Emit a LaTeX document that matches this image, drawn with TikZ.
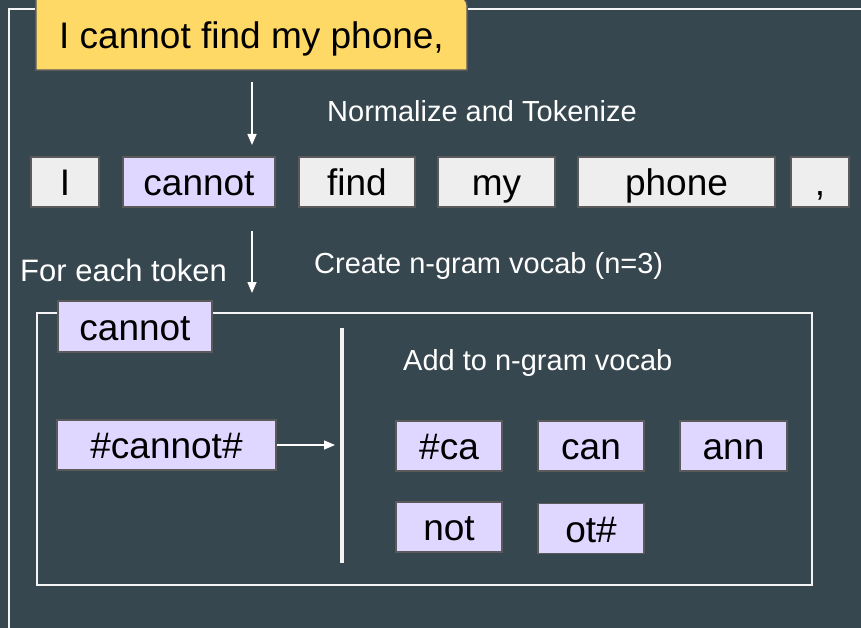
\documentclass[tikz,border=0pt]{standalone}
\usepackage{fontspec}
\setmainfont{Liberation Sans}
\usetikzlibrary{arrows.meta}
\definecolor{slate}{HTML}{37474F}
\definecolor{sunny}{HTML}{FFD966}
\definecolor{lilac}{HTML}{DFD7FF}
\definecolor{paper}{HTML}{EEEEEE}
\definecolor{rim}{HTML}{5A5A5A}
\definecolor{chalk}{HTML}{F4F4F4}
\tikzset{
  tok/.style={draw=rim, line width=1.5pt, fill=paper, minimum height=50pt,
    inner sep=0pt, text height=29.5pt, text depth=2pt,
    font=\fontsize{37}{37}\selectfont},
  gram/.style={tok, fill=lilac},
  lbl/.style={text=white, anchor=base west, inner sep=0pt,
    font=\fontsize{29}{29}\selectfont},
  flow/.style={draw=white, line width=1.5pt, -{Triangle[width=9pt,length=11pt]}},
  frame/.style={draw=chalk, line width=2pt}
}
\begin{document}
\begin{tikzpicture}[x=1pt,y=-1pt]
    \useasboundingbox (0,0) rectangle (861,628);
    \fill[slate] (0,0) rectangle (861,628);

    % outer frame, runs off the page
    \draw[frame] (9,9) rectangle (900,700);

    % --- input sentence ---
    \node[minimum width=431pt, minimum height=73pt, inner sep=0pt]
          (hdr) at (251.5,33.5) {};
    \path[fill=sunny, draw=rim, line width=1.5pt]
        (hdr.south west) -- (hdr.north west) -- ([xshift=-9pt]hdr.north east)
        arc[start angle=90, end angle=0, radius=9pt] -- (hdr.south east) -- cycle;
    \node[font=\fontsize{37}{37}\selectfont, text height=31.5pt, text depth=2pt, inner sep=0pt]
        (hdrtxt) at (hdr.center) {I cannot find my phone,};

    \coordinate (n1) at (252,82);
    \coordinate (n2) at (252,145);
    \draw[flow] (n1) -- (n2);
    \node[lbl] (normlbl) at (327,121.5) {Normalize and Tokenize};

    % --- tokens ---
    \node[tok, minimum width=68pt]  (tI)      at (65,182)    {I};
    \node[gram, minimum width=152pt](tcannot) at (199,182)   {cannot};
    \node[tok, minimum width=116pt] (tfind)   at (357,182)   {find};
    \node[tok, minimum width=117pt] (tmy)     at (496.5,182) {my};
    \node[tok, minimum width=197pt] (tphone)  at (676.5,182) {phone};
    \node[tok, minimum width=58pt]  (tcomma)  at (820,182)   {,};

    \coordinate (e1) at (252,231);
    \coordinate (e2) at (252,293);
    \draw[flow] (e1) -- (e2);
    \node[lbl, font=\fontsize{31}{31}\selectfont] (eachlbl) at (20,281.5) {For each token};
    \node[lbl] (vocablbl) at (314,273) {Create n-gram vocab (n=3)};

    % --- per-token box ---
    \draw[frame] (37,313) rectangle (812,585);
    \node[gram, minimum width=154pt, minimum height=51pt] (word) at (135,326.5) {cannot};
    \node[gram, minimum width=219pt] (wordbr) at (166.5,445) {\#cannot\#};

    \coordinate (divtop) at (342,328);
    \coordinate (divbot) at (342,563);
    \draw[chalk, line width=3.5pt] (divtop) -- (divbot);
    \draw[flow, shorten >=7pt] (wordbr.east) -- (wordbr.east -| divtop);

    \node[lbl] (addlbl) at (403,370) {Add to n-gram vocab};

    \node[gram, minimum width=106pt] (g1) at (449,446)   {\#ca};
    \node[gram, minimum width=106pt] (g2) at (591,446)   {can};
    \node[gram, minimum width=107pt] (g3) at (733.5,446) {ann};
    \node[gram, minimum width=106pt] (g4) at (449,527)   {not};
    \node[gram, minimum width=106pt] (g5) at (591,528.5) {ot\#};
\end{tikzpicture}
\end{document}
